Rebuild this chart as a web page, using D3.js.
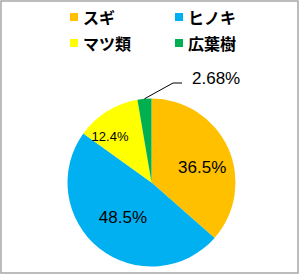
<!DOCTYPE html>
<html>
<head>
<meta charset="utf-8">
<script src="https://cdn.jsdelivr.net/npm/d3@7"></script>
<style>
  body { margin: 0; background: #fff; }
  svg { display: block; }
</style>
</head>
<body>
<figure id="pie" style="margin:0"></figure>
<script>
// data (percent share, clockwise from 12 o'clock)
const categories = ["スギ", "ヒノキ", "マツ類", "広葉樹"];
const shares = [36.5, 48.5, 12.4, 2.68];
const labels = ["36.5%", "48.5%", "12.4%", "2.68%"];
const colors = ["#FFC000", "#00B0F0", "#FFFF00", "#00B050"];

const width = 300, height = 276;
const cx = 151.5, cy = 182.5, radius = 84;

const svg = d3.select("figure#pie")
  .append("svg")
  .attr("width", width)
  .attr("height", height);

// frame
svg.append("rect")
  .attr("x", 1).attr("y", 1)
  .attr("width", 297).attr("height", 272)
  .attr("fill", "#fff")
  .attr("stroke", "#a6a6a6")
  .attr("stroke-width", 1.5);

const data = categories.map((c, i) => ({ name: c, value: shares[i], label: labels[i], color: colors[i] }));

const pie = d3.pie().value(d => d.value).sort(null);
const arcs = pie(data);
const arc = d3.arc().innerRadius(0).outerRadius(radius);

const g = svg.append("g").attr("transform", "translate(" + cx + "," + cy + ")");

g.selectAll("path")
  .data(arcs)
  .enter()
  .append("path")
  .attr("d", arc)
  .attr("fill", d => d.data.color);

// inside labels: radius and angle nudge per slice (Excel-style placement)
const labelR = [53, 45, 62];
const labelShift = [0.128, 0.015, -0.175];
arcs.slice(0, 3).forEach((a, i) => {
  const ang = (a.startAngle + a.endAngle) / 2 + labelShift[i];
  g.append("text")
    .attr("x", labelR[i] * Math.sin(ang))
    .attr("y", -labelR[i] * Math.cos(ang))
    .attr("text-anchor", "middle")
    .attr("dominant-baseline", "central")
    .style("font-family", "'Liberation Sans', Arial, sans-serif")
    .style("font-size", i === 2 ? "13px" : "17px")
    .style("fill", "#000")
    .text(a.data.label);
});

// outside label with leader line for the small slice
const small = arcs[3];
const mid = (small.startAngle + small.endAngle) / 2;
const p0 = [radius * Math.sin(mid), -radius * Math.cos(mid)];
const p1 = [21.5, -99.5];
const p2 = [30.5, -99.5];
g.append("path")
  .attr("d", d3.line()([p0, p1, p2]))
  .attr("fill", "none")
  .attr("stroke", "#000")
  .attr("stroke-width", 1);
g.append("text")
  .attr("x", 40.5)
  .attr("y", -99.5)
  .attr("dominant-baseline", "auto")
  .attr("dy", "0.05em")
  .style("font-family", "'Liberation Sans', Arial, sans-serif")
  .style("font-size", "17px")
  .style("fill", "#000")
  .text(small.data.label);

// legend, 2 x 2
const legendX = [70, 175];
const legendY = [17, 43];
const legend = svg.append("g");
data.forEach((d, i) => {
  const x = legendX[i % 2], y = legendY[Math.floor(i / 2)];
  legend.append("rect")
    .attr("x", x).attr("y", y - 4)
    .attr("width", 8).attr("height", 8)
    .attr("fill", d.color);
  legend.append("text")
    .attr("x", x + 13)
    .attr("y", y)
    .attr("dominant-baseline", "central")
    .style("font-family", "'Noto Sans CJK JP', sans-serif")
    .style("font-weight", "bold")
    .style("font-size", "16px")
    .style("fill", "#000")
    .text(d.name);
});
</script>
</body>
</html>
